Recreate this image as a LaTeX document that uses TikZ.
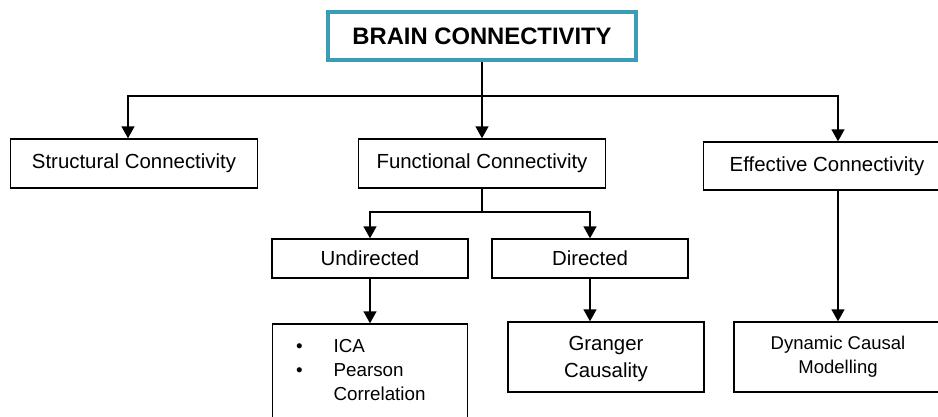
\documentclass[tikz,border=0pt]{standalone}
\usepackage{fontspec}
\setmainfont{Liberation Sans}
\usetikzlibrary{arrows.meta, positioning}
\definecolor{tealborde}{RGB}{58,157,181}

\begin{document}
\begin{tikzpicture}[x=1pt, y=-1pt,
  caja/.style={draw, line width=1.4pt, rectangle, inner sep=0pt, align=center, font=\fontsize{20.4}{27}\selectfont},
  flecha/.style={line width=1.4pt, -{Triangle[width=13pt,length=12pt]}},
  linea/.style={line width=1.4pt}]
% Mapa de conectividad cerebral: raiz, tres ramas y sus metodos
\useasboundingbox (0,0) rectangle (938,416);
\clip (0,0) rectangle (938,416);
\coordinate (bus) at (482,96);
\coordinate (busf) at (482,212);

\node[caja, draw=tealborde, line width=4pt, minimum width=308pt, minimum height=48pt, font=\bfseries\fontsize{23.8}{28}\selectfont] (raiz) at (482,36) {BRAIN CONNECTIVITY};

\node[caja, minimum width=247pt, minimum height=49pt] (estructural) at (134,163.5) {Structural Connectivity};
\node[caja, minimum width=247pt, minimum height=49pt] (funcional) at (482,163.5) {Functional Connectivity};
\node[caja, minimum width=247pt, minimum height=48pt] (efectiva) at (827,166) {Effective Connectivity};

\node[caja, minimum width=196pt, minimum height=39pt] (nodir) at (370,258.5) {Undirected};
\node[caja, minimum width=196pt, minimum height=39pt] (dir) at (590,258.5) {Directed};

\node[caja, minimum width=195pt, minimum height=110pt] (metodos) at (370,379) {};
\node[anchor=north west, inner sep=0pt, font=\fontsize{18.8}{24}\selectfont] (items) at ([xshift=24pt, yshift=-11.7pt]metodos.north west)
  {\begin{tabular}{@{}l@{\hspace{31pt}}l@{}}\textbullet & ICA\\ \textbullet & Pearson\\ & Correlation\end{tabular}};
\node[caja, minimum width=196pt, minimum height=70pt] (granger) at (606,357) {\rule{0pt}{19pt}Granger\\Causality};
\node[caja, minimum width=208pt, minimum height=70pt, font=\fontsize{18.5}{24}\selectfont] (dcm) at (838,357) {Dynamic Causal\\Modelling};

\draw[linea] (raiz) -- (bus);
\draw[flecha] (bus) -| ([xshift=-6pt]estructural.north);
\draw[flecha] (bus) -- (funcional.north);
\draw[flecha] (bus) -| ([xshift=11pt]efectiva.north);
\draw[linea] (funcional) -- (busf);
\draw[flecha] (busf) -| (nodir.north);
\draw[flecha] (busf) -| (dir.north);
\draw[flecha] (nodir) -- (metodos);
\draw[flecha] (dir.south) -- (dir.south |- granger.north);
\draw[flecha] ([xshift=11pt]efectiva.south) -- (dcm.north);
\end{tikzpicture}
\end{document}
